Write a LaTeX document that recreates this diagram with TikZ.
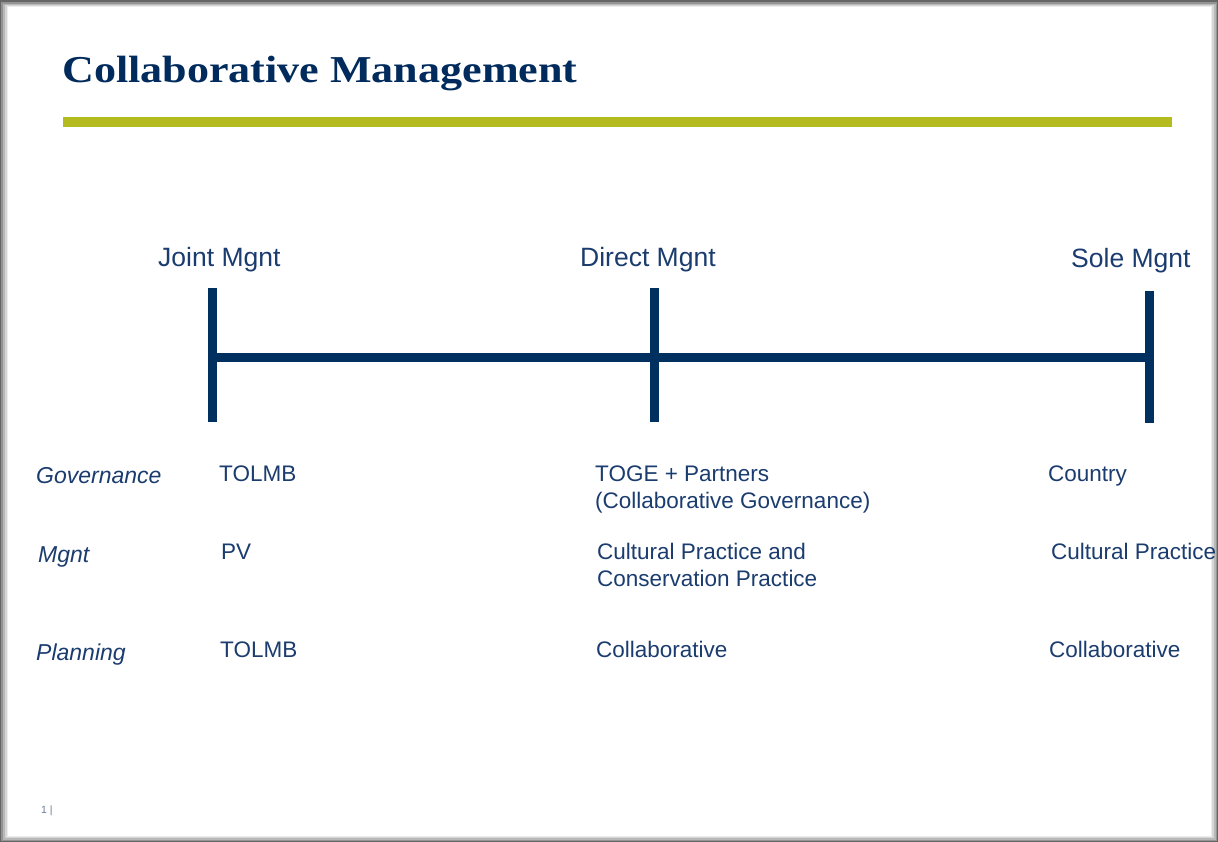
\documentclass[tikz,border=0pt]{standalone}
\usepackage{fontspec}
\setmainfont{Liberation Sans}
\newfontfamily\titlefont{Liberation Serif}
\definecolor{navy}{HTML}{00305F}
\definecolor{inkblue}{HTML}{1B3C6E}
\definecolor{titleblue}{HTML}{002B5C}
\definecolor{olive}{HTML}{B3BB1E}
\definecolor{pagenum}{HTML}{6B7C9C}
\tikzset{
  body/.style={anchor=base west, inner sep=0pt, text=inkblue,
    font=\fontsize{22.5}{27}\selectfont, align=left},
  rowlabel/.style={anchor=base west, inner sep=0pt, text=inkblue,
    font=\fontsize{23}{27}\selectfont\itshape},
  header/.style={anchor=base west, inner sep=0pt, text=inkblue,
    font=\fontsize{26.5}{30}\selectfont},
  scaleline/.style={draw=navy, line width=9pt}
}
\begin{document}
\begin{tikzpicture}[x=1pt,y=-1pt]
  \useasboundingbox (0,0) rectangle (1218,842);
  % frame and drop shadow around the slide
  \fill[black!60] (0,0) rectangle (1218,842);
  \fill[black!42] (1,2) rectangle (1217,841);
  \fill[black!28] (3,4) rectangle (1216,840);
  \fill[black!16] (5,5) rectangle (1214,838);
  \fill[black!7] (7,6) rectangle (1212,837);
  \fill[white] (8,7) rectangle (1211,836);

  % title and rule
  \node[anchor=base west, inner sep=0pt, text=titleblue] (title) at (62,83)
    {\scalebox{1.16}[1]{\titlefont\bfseries\fontsize{38}{44}\selectfont Collaborative Management}};
  \coordinate (ruleL) at (63,122);
  \coordinate (ruleR) at (1172,122);
  \draw[olive, line width=10pt] (ruleL) -- (ruleR);

  % the scale: three ticks joined by a bar
  \coordinate (jtop) at (212.5,288);
  \coordinate (jbot) at (212.5,422);
  \coordinate (jmid) at (212.5,357);
  \coordinate (dtop) at (654,288);
  \coordinate (dbot) at (654,422);
  \coordinate (stop) at (1149.5,291);
  \coordinate (sbot) at (1149.5,423);
  \coordinate (smid) at (1149.5,357);
  \draw[scaleline] (jmid) -- (smid);
  \draw[scaleline] (jtop) -- (jbot);
  \draw[scaleline] (dtop) -- (dbot);
  \draw[scaleline] (stop) -- (sbot);

  % headings above the ticks
  \node[header] (joint) at (158,267) {Joint Mgnt};
  \node[header] (direct) at (580,267) {Direct Mgnt};
  \node[header] (sole) at (1071,268) {Sole Mgnt};

  % row labels
  \node[rowlabel] (gov) at (36,483) {Governance};
  \node[rowlabel] (mgnt) at (38,562) {Mgnt};
  \node[rowlabel] (plan) at (36,660) {Planning};

  % joint management column
  \node[body] (jgov) at (219,481) {TOLMB};
  \node[body] (jmgt) at (221,559) {PV};
  \node[body] (jplan) at (220,657) {TOLMB};

  % direct management column (two-line cells sit on their last baseline)
  \node[body] (dgov) at (595,508) {TOGE + Partners\\(Collaborative Governance)};
  \node[body] (dmgt) at (597,586) {Cultural Practice and\\Conservation Practice};
  \node[body] (dplan) at (596,657) {Collaborative};

  % sole management column
  \node[body] (sgov) at (1048,481) {Country};
  \node[body] (smgt) at (1051,559) {Cultural Practice};
  \node[body] (splan) at (1049,657) {Collaborative};

  % slide number
  \node[anchor=base west, inner sep=0pt, text=pagenum,
    font=\fontsize{10.5}{12}\selectfont] (pnum) at (41,813) {1 |};
\end{tikzpicture}
\end{document}
